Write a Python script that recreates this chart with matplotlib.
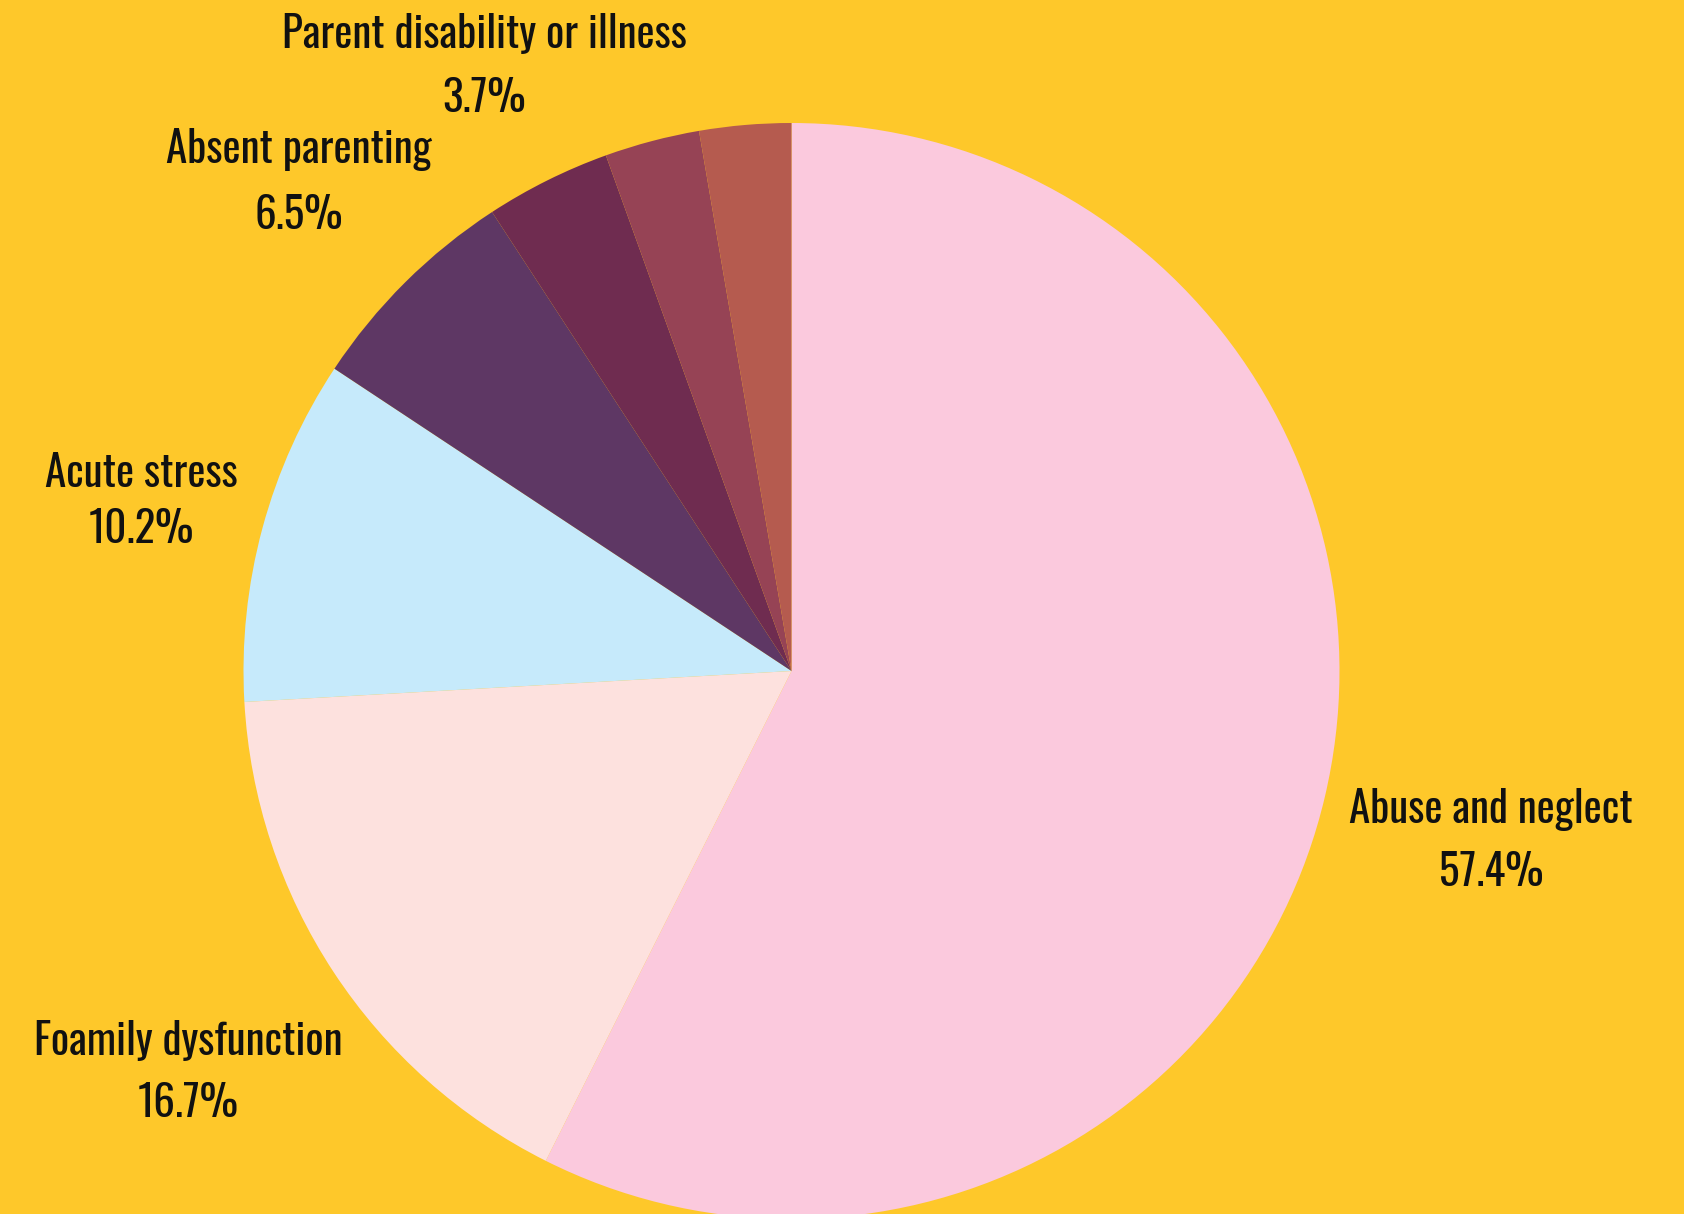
import matplotlib.pyplot as plt

# slice data, clockwise from 12 o'clock; the last two slices carry no label
categories = ["Abuse and neglect", "Foamily dysfunction", "Acute stress",
              "Absent parenting", "Parent disability or illness", None, None]
shares = [57.4, 16.7, 10.2, 6.5, 3.7, 2.8, 2.7]

colors = ["#FBC9DD", "#FDE1DE", "#C6EAFB", "#5E3764", "#6F2C50", "#964355", "#B55B4F"]
bg = "#FEC82A"

W, H = 1684, 1214
fig = plt.figure(figsize=(W / 100, H / 100), dpi=100, facecolor=bg)
ax = fig.add_axes([0, 0, 1, 1])
ax.set_facecolor(bg)

ax.pie(shares, colors=colors, startangle=90, counterclock=False,
       center=(791.5, H - 671), radius=548,
       wedgeprops=dict(linewidth=0))
ax.set_xlim(0, W)
ax.set_ylim(0, H)
ax.set_aspect("equal")
ax.axis("off")

# (x centre, name baseline, value baseline) in pixels from the top-left
label_pos = [(1491, 823, 886), (188, 1055, 1117), (141, 487, 543),
             (299, 163, 229), (484, 48, 112), None, None]

font = dict(family=["Oswald", "DejaVu Sans"], fontsize=31, color="#111111")
for name, val, pos in zip(categories, shares, label_pos):
    if name is None:
        continue
    x, y_name, y_val = pos
    ax.text(x, H - y_name, name, ha="center", va="baseline", **font)
    ax.text(x, H - y_val, f"{val:.1f}%", ha="center", va="baseline", **font)

plt.savefig("out.png", dpi=100, facecolor=bg)
